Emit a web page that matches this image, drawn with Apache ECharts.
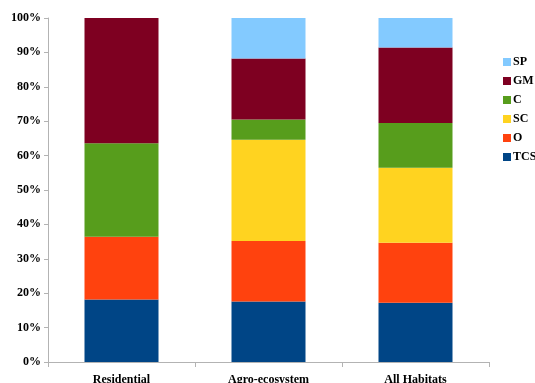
<!DOCTYPE html>
<html><head><meta charset="utf-8">
<script src="https://cdn.jsdelivr.net/npm/echarts@6/dist/echarts.min.js"></script>
<style>html,body{margin:0;padding:0;background:#fff}#c{width:535px;height:383px}</style>
</head><body><div id="c"></div>
<script>
const categories = ['Residential', 'Agro-ecosystem', 'All Habitats'];
const seriesNames = ['TCS', 'O', 'SC', 'C', 'GM', 'SP'];
const TCS = [18.2, 17.6, 17.2];
const O   = [18.2, 17.6, 17.5];
const SC  = [0, 29.4, 21.8];
const C   = [27.2, 5.9, 13.0];
const GM  = [36.4, 17.7, 21.9];
const SP  = [0, 11.8, 8.6];
const yTicks = [0,10,20,30,40,50,60,70,80,90,100];
const colors = {TCS:'#004586', O:'#ff420e', SC:'#ffd320', C:'#579d1c', GM:'#7e0021', SP:'#83caff'};
const values = {TCS, O, SC, C, GM, SP};
const font = '"Liberation Serif", "DejaVu Serif", serif';
const chart = echarts.init(document.getElementById('c'), null, {renderer:'canvas'});
chart.setOption({
  animation:false,
  grid:{left:48, right:46, top:18, bottom:21, containLabel:false, outerBoundsMode:'none'},
  legend:{
    orient:'vertical', left:498, top:51,
    data:['SP','GM','C','SC','O','TCS'],
    itemWidth:8, itemHeight:8, itemGap:7, icon:'rect',
    textStyle:{fontFamily:font, fontWeight:'bold', fontSize:12, color:'#000', padding:[0,0,0,-3]}
  },
  xAxis:{
    type:'category', data:categories, boundaryGap:true,
    axisLine:{lineStyle:{color:'#b3b3b3', width:1}},
    axisTick:{show:true, alignWithLabel:false, length:5, lineStyle:{color:'#b3b3b3'}},
    axisLabel:{fontFamily:font, fontWeight:'bold', fontSize:12, color:'#000', margin:12}
  },
  yAxis:{
    type:'value', min:0, max:100, interval:10,
    axisLine:{show:true, lineStyle:{color:'#b3b3b3'}},
    axisTick:{show:true, length:4, lineStyle:{color:'#b3b3b3'}},
    splitLine:{show:false},
    axisLabel:{fontFamily:font, fontWeight:'bold', fontSize:12, color:'#000', margin:7,
      formatter:v => yTicks.includes(v) ? v + '%' : ''}
  },
  series: seriesNames.map(n => ({
    name:n, type:'bar', stack:'all', data:values[n], barWidth:74,
    itemStyle:{color:colors[n]}
  }))
});
</script></body></html>
